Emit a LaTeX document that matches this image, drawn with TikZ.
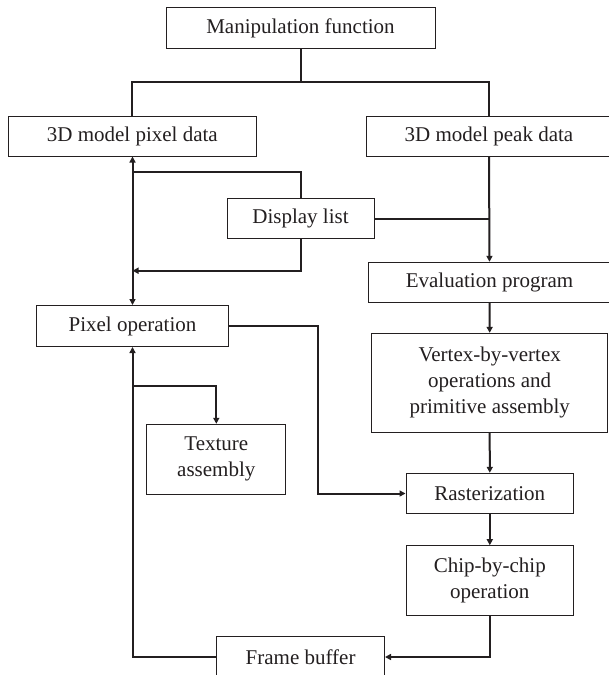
\documentclass[tikz,border=0pt]{standalone}
\usepackage{fontspec}
\setmainfont{Liberation Serif}
\usetikzlibrary{arrows.meta}
\definecolor{ink}{HTML}{231F20}
\tikzset{
  box/.style={draw=ink, line width=1pt, text=ink, inner sep=0pt, align=center,
    font=\fontsize{21}{26}\selectfont},
  link/.style={draw=ink, line width=2pt},
  arr/.style={link, -{Triangle[length=6pt,width=6pt]}},
}
\begin{document}
\begin{tikzpicture}[x=1pt,y=-1pt]
\fill[white] (0,0) rectangle (609,675);
\useasboundingbox (0,0) rectangle (609,675);

% boxes
\node[box, minimum width=269pt, minimum height=41pt] (manip) at (300.5,28) {Manipulation function};
\node[box, minimum width=247.5pt, minimum height=40pt] (pix) at (132.3,136) {3D model pixel data};
\node[box, minimum width=246pt, minimum height=40pt] (peak) at (489,136) {3D model peak data};
\node[box, minimum width=147pt, minimum height=40.4pt] (disp) at (300.5,218.5) {Display list};
\node[box, minimum width=241.5pt, minimum height=40.4pt] (eval) at (489.5,282.5) {Evaluation program};
\node[box, minimum width=192pt, minimum height=41pt] (pixop) at (132.5,326) {Pixel operation};
\node[box, minimum width=236pt, minimum height=98.7pt] (vert) at (489.7,382.7) {Vertex-by-vertex\\operations and\\primitive assembly};
\node[box, minimum width=139pt, minimum height=70pt] (tex) at (216.3,459.3) {Texture\\assembly};
\node[box, minimum width=167.6pt, minimum height=40.4pt] (rast) at (489.8,493.5) {Rasterization};
\node[box, minimum width=167.6pt, minimum height=69.6pt] (chip) at (489.8,580.5) {Chip-by-chip\\operation};
\node[box, minimum width=167.8pt, minimum height=40.6pt] (frame) at (300.6,657) {Frame buffer};

% junction points
\coordinate (split) at (300.5,82);
\coordinate (dispup) at (300.5,171.7);
\coordinate (dispdn) at (300.5,270.7);
\coordinate (bendR) at (317.7,493.5);
\coordinate (texbr) at (132.5,386);

% manipulation function fans out to both data boxes
\draw[link] (manip.south) -- (split);
\draw[link] (pix.north) |- (split) -| (peak.north);

% peak data and display list feed the evaluation program
\draw[arr] (peak.south) -- (eval.north);
\draw[link] (disp.east) -- (disp.east -| eval.north);

% display list linked to the pixel path
\draw[link] (disp.north) -- (dispup) -- (dispup -| pixop.north);
\draw[arr] (disp.south) -- (dispdn) -- (dispdn -| pixop.north);
\draw[arr, {Triangle[length=6pt,width=6pt]}-{Triangle[length=6pt,width=6pt]}]
  (pix.south -| pixop.north) -- (pixop.north);

% vertex pipeline
\draw[arr] (eval.south) -- (vert.north);
\draw[arr] (vert.south) -- (rast.north);
\draw[arr] (rast.south) -- (chip.north);
\draw[arr] (chip.south) |- (frame.east);

% pixel operation to rasterization
\draw[arr] (pixop.east) -| (bendR) -- (rast.west);

% frame buffer back to pixel operation, with texture branch
\draw[arr] (frame.west) -| (pixop.south);
\draw[arr] (texbr) -| (tex.north);
\end{tikzpicture}
\end{document}
